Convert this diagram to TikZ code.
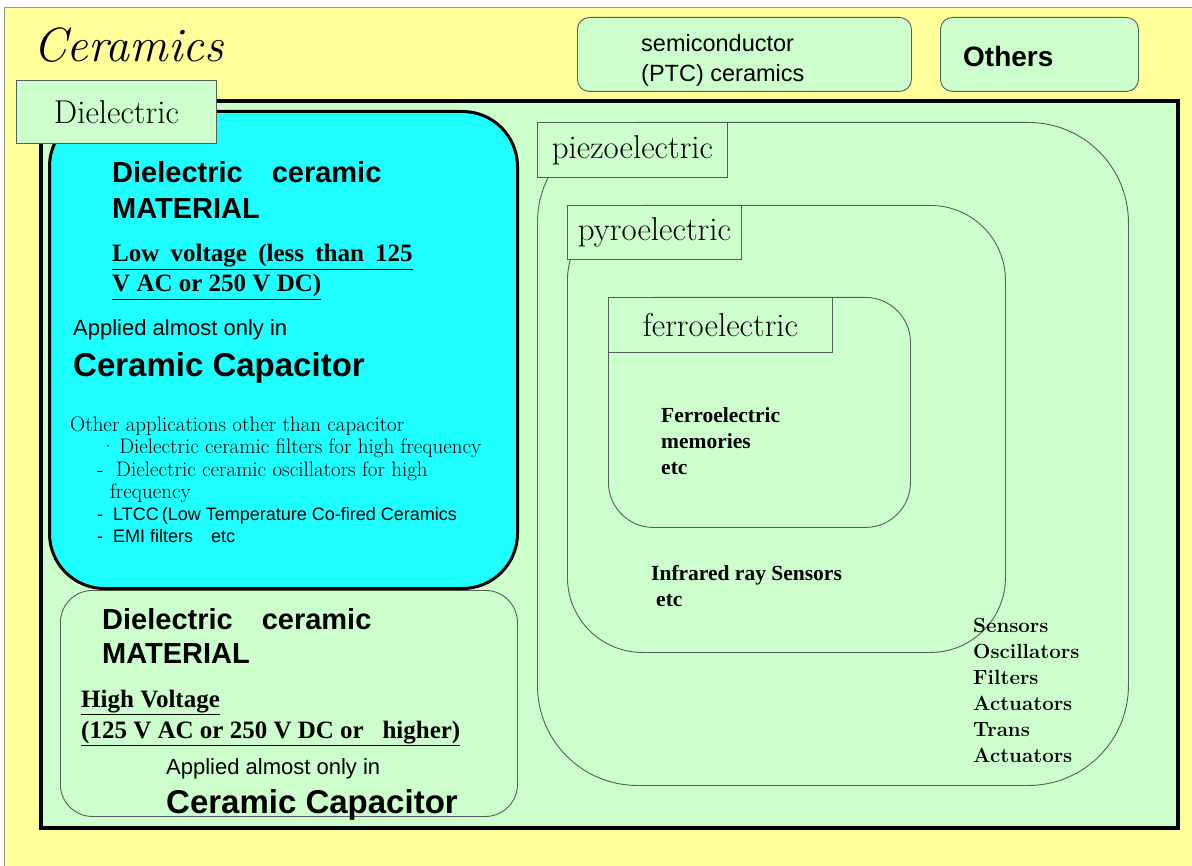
\documentclass[tikz,border=0pt]{standalone}
\usepackage{fontspec}
\setsansfont{Liberation Sans}
\newfontfamily\timesfont{Liberation Serif}
\usetikzlibrary{positioning}
\definecolor{sheetyellow}{RGB}{255,255,153}
\definecolor{paleGreen}{RGB}{204,255,204}
\definecolor{capCyan}{RGB}{30,255,255}
\definecolor{edgeGray}{RGB}{85,95,85}
\newcommand\widewords{\spaceskip 0.45em\relax}

\begin{document}
\begin{tikzpicture}[x=1pt,y=-1pt,
    panel/.style={draw=edgeGray,line width=0.9pt,fill=paleGreen,anchor=north west,inner sep=0pt},
    tab/.style={draw=edgeGray,line width=0.9pt,fill=paleGreen,anchor=north west,inner sep=0pt,font=\fontsize{33}{36}\selectfont},
    txt/.style={anchor=base west,inner sep=0pt},
    headsans/.style={txt,font=\sffamily\bfseries\fontsize{29}{34}\selectfont},
    capsans/.style={txt,font=\sffamily\bfseries\fontsize{33}{38}\selectfont},
    applsans/.style={txt,font=\sffamily\fontsize{22}{26}\selectfont},
    volt/.style={txt,font=\timesfont\bfseries\fontsize{25}{28}\selectfont},
    widevolt/.style={txt,font={\timesfont\bfseries\fontsize{25}{28}\selectfont\widewords}},
    note/.style={txt,font=\fontsize{21}{22}\selectfont},
    notesans/.style={txt,font=\sffamily\fontsize{18}{22}\selectfont},
    appl/.style={txt,font=\timesfont\bfseries\fontsize{21.5}{26}\selectfont},
    uses/.style={txt,font=\bfseries\fontsize{20.5}{26}\selectfont}
  ]
    \useasboundingbox (0,0) rectangle (1192,866);
    % sheet and title
    \node[draw=gray!80,fill=sheetyellow,anchor=north west,inner sep=0pt,minimum width=1192pt,minimum height=862pt] (sheet) at (4,7) {};
    \node[txt,font=\itshape\fontsize{48}{54}\selectfont] (title) at (33,62) {Ceramics};
    
    % other ceramics
    \node[panel,rounded corners=12pt,minimum width=334pt,minimum height=74pt] (semi) at (577,17) {};
    \node[txt,font=\sffamily\fontsize{23.5}{27}\selectfont] (semiA) at (641,52) {semiconductor};
    \node[txt,font=\sffamily\fontsize{23.5}{27}\selectfont] (semiB) at (641,82) {(PTC) ceramics};
    \node[panel,rounded corners=12pt,minimum width=198pt,minimum height=74pt] (others) at (940,17) {};
    \node[txt,font=\sffamily\bfseries\fontsize{28}{32}\selectfont] (othersT) at (963,67) {Others};
    
    % dielectric area
    \node[panel,draw=black,line width=4pt,minimum width=1137pt,minimum height=727pt] (area) at (39,99) {};
    \node[panel,rounded corners=32pt,minimum width=457pt,minimum height=226pt] (highV) at (60,590) {};
    \node[panel,draw=black,line width=3pt,fill=capCyan,rounded corners=55pt,minimum width=468pt,minimum height=477pt] (lowV) at (48,110) {};
    
    % nested regions
    \node[panel,rounded corners=100pt,minimum width=591pt,minimum height=663pt] (piezo) at (537,122) {};
    \node[panel,rounded corners=75pt,minimum width=438pt,minimum height=447pt] (pyro) at (567,205) {};
    \node[panel,rounded corners=45pt,minimum width=302pt,minimum height=230pt] (ferro) at (608,297) {};
    
    % tabs
    \node[tab,minimum width=200pt,minimum height=63pt] (dielTab) at (16,80) {Dielectric};
    \node[tab,minimum width=190pt,minimum height=55pt] (piezoTab) at (537,122) {piezoelectric};
    \node[tab,minimum width=174pt,minimum height=54pt] (pyroTab) at (567,205) {pyroelectric};
    \node[tab,minimum width=224pt,minimum height=55pt] (ferroTab) at (608,297) {ferroelectric};
    
    % low voltage text
    \node[headsans] (lowHead) at (112,183) {Dielectric\hspace{1em}ceramic};
    \node[headsans] (lowMat) at (112,219) {MATERIAL};
    \node[widevolt] (lowVa) at (112,262) {\underline{Low voltage (less than 125}};
    \node[volt] (lowVb) at (112,292) {\underline{V AC or 250 V DC)}};
    \node[applsans] (lowApp) at (73,336) {Applied almost only in};
    \node[capsans] (lowCap) at (73,377) {Ceramic Capacitor};
    \node[note] (otherHd) at (70,432) {Other applications other than capacitor};
    \node[note] (otherA) at (97,454) {\,·\,Dielectric ceramic filters for high frequency};
    \node[note] (otherB) at (97,476) {-\ \ Dielectric ceramic oscillators for high};
    \node[note] (otherC) at (110,498) {frequency};
    \node[notesans] (otherD) at (97,520) {-\ \ LTCC\,(Low Temperature Co-fired Ceramics};
    \node[notesans] (otherE) at (97,542) {-\ \ EMI filters\quad etc};
    
    % high voltage text
    \node[headsans] (highHead) at (102,629) {Dielectric\hspace{1em}ceramic};
    \node[headsans] (highMat) at (102,663) {MATERIAL};
    \node[volt] (highVa) at (81,707) {\underline{High Voltage}};
    \node[volt] (highVb) at (81,738) {\underline{(125 V AC or 250 V DC or\ \ \ higher)}};
    \node[applsans] (highApp) at (166,774) {Applied almost only in};
    \node[capsans] (highCap) at (166,813) {Ceramic Capacitor};
    
    % applications
    \node[appl] (ferroA) at (661,423) {Ferroelectric};
    \node[appl] (ferroB) at (661,449) {memories};
    \node[appl] (ferroC) at (661,475) {etc};
    \node[appl] (pyroA) at (651,580) {Infrared ray Sensors};
    \node[appl] (pyroB) at (656,606) {etc};
    \foreach \t [count=\i] in {Sensors,Oscillators,Filters,Actuators,Trans,Actuators}
      \node[uses] (piezo\i) at (973,{606+26*\i}) {\t};
  \end{tikzpicture}
\end{document}
